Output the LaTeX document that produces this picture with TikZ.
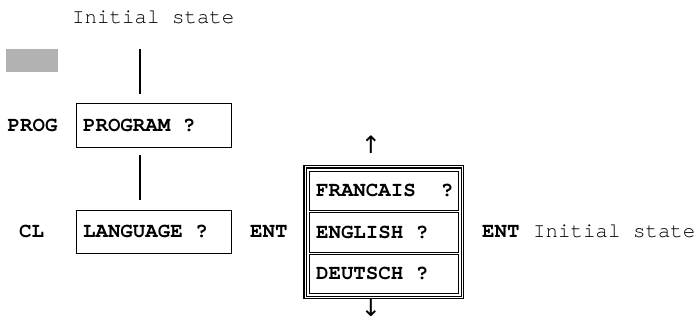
\documentclass[tikz,border=0pt]{standalone}
\usepackage{fontspec}
\newfontfamily\mono{TeX Gyre Cursor}
\newfontfamily\arrowfont{DejaVu Sans}
\newcommand\csp{\hspace*{0.6em}}
\tikzset{
  txt/.style={inner sep=0pt, anchor=base west, font=\mono\fontsize{20.8}{24}\selectfont},
  btxt/.style={txt, font=\mono\bfseries\fontsize{20.8}{24}\selectfont},
  box/.style={draw, line width=1.1pt, anchor=north west, inner xsep=6.5pt, inner ysep=0pt,
    align=left, text height=12pt, text depth=0pt,
    font=\mono\bfseries\fontsize{20.8}{24}\selectfont},
  arr/.style={inner sep=0pt, anchor=center, font=\arrowfont\fontsize{24}{26}\selectfont},
  conn/.style={line width=1.1pt},
  frame/.style={line width=1.1pt}
}
\begin{document}
\begin{tikzpicture}[x=1pt,y=-1pt]
\useasboundingbox (0,0) rectangle (698,321);
% top
\node[txt] (init) at (72,23.3) {Initial\csp state};
\fill[black!30] (6,49) rectangle (57.7,72.3);
\node[btxt] (proglab) at (7.5,131.5) {PROG};
\node[box, text width=141.7pt, minimum height=43.4pt] (prog) at (76,103.3) {PROGRAM\csp ?};
\node[btxt] (cllab) at (19,237.3) {CL};
\node[box, text width=141.7pt, minimum height=42.7pt] (lang) at (76,210) {LANGUAGE\csp ?};
\node[btxt] (ent1) at (250,237.3) {ENT};
% menu
\node[box, text width=135.5pt, minimum height=39pt] (fr) at (309,170.5) {FRANCAIS\csp\csp ?};
\node[box, text width=135.5pt, minimum height=39.5pt] (en) at (309,212) {ENGLISH\csp ?};
\node[box, text width=135.5pt, minimum height=38.5pt] (de) at (309,254) {DEUTSCH\csp ?};
\draw[frame] ([shift={(-2.5,-2.5)}]fr.north west) rectangle ([shift={(2.5,2.5)}]de.south east);
\draw[frame] ([shift={(-5,-5)}]fr.north west) rectangle ([shift={(5,5)}]de.south east);
\node[arr] (up) at (371,144.5) {↑};
\node[arr] (down) at (371,307.5) {↓};
\node[btxt] (ent2) at (482,237) {ENT};
\node[txt] (init2) at (533,237) {Initial\csp state};
% connectors
\coordinate (c1) at (140,49);
\coordinate (c2) at (140,94);
\coordinate (c3) at (140,155);
\coordinate (c4) at (140,200);
\draw[conn] (c1) -- (c2);
\draw[conn] (c3) -- (c4);
\end{tikzpicture}
\end{document}
